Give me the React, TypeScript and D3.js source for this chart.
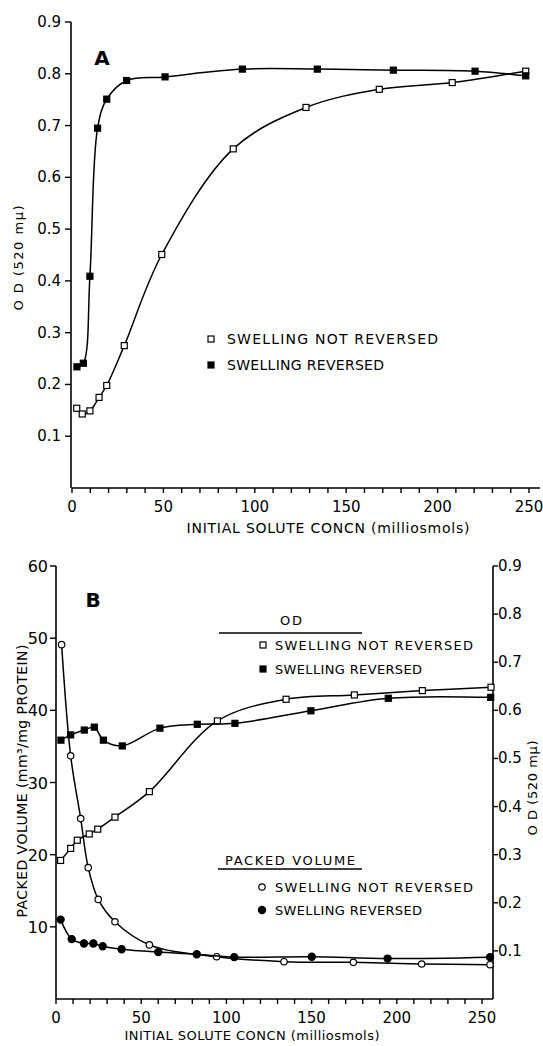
import * as d3 from 'd3';

// panel A: OD at 520 mμ vs initial solute concn
const aOpenX = [2.6, 5.6, 9.8, 14.8, 19, 28.6, 49.1, 88.2, 128, 168.1, 208, 248.2];
const aOpenY = [0.154, 0.143, 0.149, 0.175, 0.198, 0.275, 0.451, 0.655, 0.735, 0.77, 0.783, 0.805];
const aFillX = [2.7, 6.2, 9.8, 14, 19, 29.9, 50.9, 93.2, 134.2, 175.8, 220.5, 248.2];
const aFillY = [0.234, 0.241, 0.409, 0.695, 0.751, 0.787, 0.794, 0.809, 0.809, 0.807, 0.805, 0.796];

// panel B: OD (right axis)
const bOdOpenX = [2.7, 8.6, 12.5, 19.5, 24.5, 34.6, 54.8, 94.7, 135, 175.1, 215, 255.3];
const bOdOpenY = [0.288, 0.313, 0.33, 0.343, 0.353, 0.378, 0.431, 0.578, 0.623, 0.632, 0.641, 0.648];
const bOdFillX = [2.9, 8.6, 16.6, 22.5, 27.8, 38.9, 61, 82.9, 105, 149.6, 195, 255.1];
const bOdFillY = [0.538, 0.549, 0.559, 0.565, 0.538, 0.526, 0.563, 0.571, 0.573, 0.599, 0.625, 0.627];

// panel B: packed volume (left axis)
const bPvOpenX = [3.3, 8.6, 14.5, 18.9, 24.8, 34.6, 54.8, 94.3, 133.8, 174.5, 214.6, 254.7];
const bPvOpenY = [49.1, 33.7, 25.0, 18.2, 13.8, 10.7, 7.5, 5.86, 5.17, 5.08, 4.85, 4.75];
const bPvFillX = [2.7, 9.2, 16.4, 21.9, 27.4, 38.5, 60, 82.6, 104.6, 150.1, 194.6, 254.7];
const bPvFillY = [11.0, 8.3, 7.7, 7.7, 7.3, 6.9, 6.5, 6.2, 5.8, 5.86, 5.6, 5.8];

const odTicks = [0.1, 0.2, 0.3, 0.4, 0.5, 0.6, 0.7, 0.8, 0.9];
const pvTicks = [10, 20, 30, 40, 50, 60];
const xMajor = [0, 50, 100, 150, 200, 250];
const xMinor = d3.range(0, 251, 10);

const xTitle = 'INITIAL SOLUTE CONCN  (milliosmols)';
const legNot = 'SWELLING NOT REVERSED';
const legRev = 'SWELLING REVERSED';

const FONT = 'DejaVu Sans, Liberation Sans, sans-serif';

const xA = d3.scaleLinear().domain([0, 250]).range([72, 529]);
const yA = d3.scaleLinear().domain([0, 0.9]).range([488, 22]);
const xB = d3.scaleLinear().domain([0, 250]).range([56, 482]);
const yBL = d3.scaleLinear().domain([0, 60]).range([999, 566]);
const yBR = d3.scaleLinear().domain([0, 0.9]).range([999, 566]);

const pts = (xs: number[], ys: number[]) => xs.map((x, i) => [x, ys[i]] as [number, number]);

const mkLine = (sx: any, sy: any) =>
  d3.line<[number, number]>()
    .x(d => sx(d[0]))
    .y(d => sy(d[1]))
    .curve(d3.curveCatmullRom.alpha(0.5));

const Square = ({ x, y, filled }: { x: number; y: number; filled: boolean }) => (
  <rect x={x - 3} y={y - 3} width={6} height={6}
    fill={filled ? '#000' : '#fff'} stroke="#000" strokeWidth={1.2} />
);
const Dot = ({ x, y, filled }: { x: number; y: number; filled: boolean }) => (
  <circle cx={x} cy={y} r={filled ? 3.6 : 3.2}
    fill={filled ? '#000' : '#fff'} stroke="#000" strokeWidth={1.2} />
);

const Series = ({ xs, ys, sx, sy, filled, round }: any) => {
  const line = mkLine(sx, sy);
  const data = pts(xs, ys);
  return (
    <g>
      <path d={line(data) || ''} fill="none" stroke="#000" strokeWidth={1.5} />
      {data.map((d, i) => round
        ? <Dot key={i} x={sx(d[0])} y={sy(d[1])} filled={filled} />
        : <Square key={i} x={sx(d[0])} y={sy(d[1])} filled={filled} />)}
    </g>
  );
};

const XAxis = ({ sx, y, end }: { sx: any; y: number; end: number }) => (
  <g>
    <line x1={sx(0)} x2={end} y1={y} y2={y} stroke="#000" strokeWidth={1.6} />
    {xMinor.map(t => (
      <line key={t} x1={sx(t)} x2={sx(t)} y1={y} y2={y + 5} stroke="#000" strokeWidth={1.4} />
    ))}
    {xMajor.map(t => (
      <text key={t} x={sx(t)} y={y + 24} textAnchor="middle" fontSize={15}>{t}</text>
    ))}
  </g>
);

const App = () => {
  return (
    <svg width={543} height={1046} style={{ position: 'absolute', left: 0, top: 0, background: '#fff' }}
      fontFamily={FONT} fill="#000">
      {/* ---------- PANEL A ---------- */}
      <line x1={71} x2={71} y1={yA(0)} y2={yA(0.9)} stroke="#000" strokeWidth={1.6} />
      {odTicks.map(t => (
        <g key={t}>
          <line x1={65} x2={71} y1={yA(t)} y2={yA(t)} stroke="#000" strokeWidth={1.4} />
          <text x={61} y={yA(t) + 5} textAnchor="end" fontSize={15}>{t.toFixed(1)}</text>
        </g>
      ))}
      <XAxis sx={xA} y={yA(0)} end={540} />
      <text x={328} y={533} textAnchor="middle" fontSize={14} textLength={283} lengthAdjust="spacing">{xTitle}</text>
      <text transform="translate(23,258) rotate(-90)" textAnchor="middle" fontSize={13}
        textLength={105} lengthAdjust="spacing">O D (520 mμ)</text>
      <text x={102} y={65} textAnchor="middle" fontSize={20} fontWeight="bold">A</text>

      <Series xs={aOpenX} ys={aOpenY} sx={xA} sy={yA} filled={false} />
      <Series xs={aFillX} ys={aFillY} sx={xA} sy={yA} filled={true} />

      <Square x={211} y={339} filled={false} />
      <text x={227} y={344} fontSize={14} textLength={211} lengthAdjust="spacing">{legNot}</text>
      <Square x={211} y={365} filled={true} />
      <text x={227} y={370} fontSize={14} textLength={157} lengthAdjust="spacing">{legRev}</text>

      {/* ---------- PANEL B ---------- */}
      <line x1={56} x2={56} y1={yBL(0)} y2={yBL(60)} stroke="#000" strokeWidth={1.6} />
      {pvTicks.map(t => (
        <g key={t}>
          <line x1={50} x2={56} y1={yBL(t)} y2={yBL(t)} stroke="#000" strokeWidth={1.4} />
          <text x={48} y={yBL(t) + 6} textAnchor="end" fontSize={16}>{t}</text>
        </g>
      ))}
      <line x1={493} x2={493} y1={yBR(0)} y2={yBR(0.9)} stroke="#000" strokeWidth={1.6} />
      {odTicks.map(t => (
        <g key={t}>
          <line x1={493} x2={498} y1={yBR(t)} y2={yBR(t)} stroke="#000" strokeWidth={1.4} />
          <text x={498} y={yBR(t) + 5} fontSize={15}>{t.toFixed(1)}</text>
        </g>
      ))}
      <XAxis sx={xB} y={yBL(0)} end={493} />
      <text x={252} y={1040} textAnchor="middle" fontSize={13} textLength={255} lengthAdjust="spacing">{xTitle}</text>
      <text transform="translate(27,781) rotate(-90)" textAnchor="middle" fontSize={14}
        textLength={273} lengthAdjust="spacing">PACKED VOLUME (mm³/mg PROTEIN)</text>
      <text transform="translate(537,788) rotate(-90)" textAnchor="middle" fontSize={13}
        textLength={95} lengthAdjust="spacing">O D (520 mμ)</text>
      <text x={93} y={607} textAnchor="middle" fontSize={20} fontWeight="bold">B</text>

      <Series xs={bOdOpenX} ys={bOdOpenY} sx={xB} sy={yBR} filled={false} />
      <Series xs={bOdFillX} ys={bOdFillY} sx={xB} sy={yBR} filled={true} />
      <Series xs={bPvOpenX} ys={bPvOpenY} sx={xB} sy={yBL} filled={false} round />
      <Series xs={bPvFillX} ys={bPvFillY} sx={xB} sy={yBL} filled={true} round />

      {/* legend B */}
      <text x={291} y={625} textAnchor="middle" fontSize={13} textLength={22} lengthAdjust="spacing">O D</text>
      <line x1={219} x2={362} y1={633} y2={633} stroke="#000" strokeWidth={1.3} />
      <Square x={263} y={645} filled={false} />
      <text x={275} y={650} fontSize={13} textLength={198} lengthAdjust="spacing">{legNot}</text>
      <Square x={263} y={669} filled={true} />
      <text x={275} y={674} fontSize={13} textLength={147} lengthAdjust="spacing">{legRev}</text>

      <text x={225} y={865} fontSize={13} textLength={130} lengthAdjust="spacing">PACKED VOLUME</text>
      <line x1={218} x2={362} y1={869} y2={869} stroke="#000" strokeWidth={1.3} />
      <Dot x={262} y={887} filled={false} />
      <text x={275} y={892} fontSize={13} textLength={198} lengthAdjust="spacing">{legNot}</text>
      <Dot x={262} y={910} filled={true} />
      <text x={275} y={915} fontSize={13} textLength={147} lengthAdjust="spacing">{legRev}</text>
    </svg>
  );
};

export default App;
